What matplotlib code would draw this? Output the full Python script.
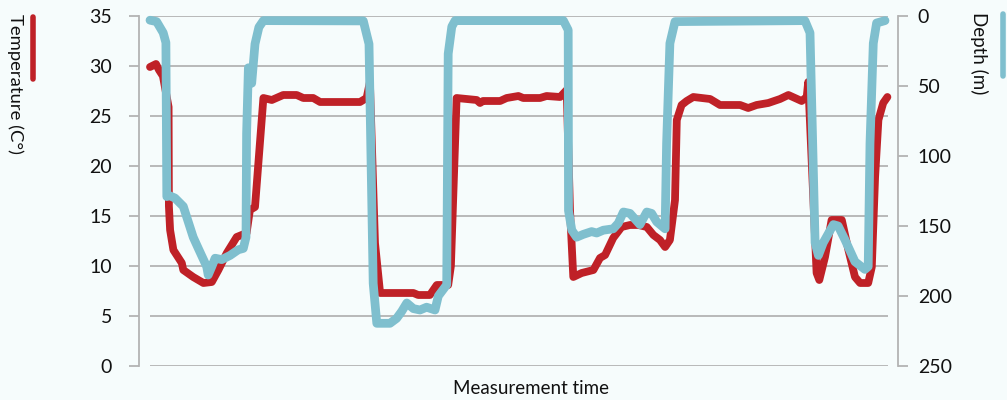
import matplotlib.pyplot as plt

# sample index (arbitrary time units) and readings taken off the chart
temp_t = [0, 2, 3, 4.3, 6.2, 6.3, 6.7, 7.8, 10.6, 11.1, 14.4, 17.8, 20.6, 22.8, 25.6,
          28.9, 32.2, 33.3, 35, 37.8, 40.6, 44.4, 48.9, 51.1, 54.4, 56.7, 70, 72.2,
          73.3, 75, 76.7, 87.8, 89.4, 93.3, 95.6, 99.4, 100.3, 102.2, 108.9, 110, 111,
          116.7, 118.9, 122.8, 124.4, 130, 132.2, 136.7, 138.9, 140, 141.1, 143.9,
          147.8, 150, 151.7, 154.4, 157.2, 160, 162.8, 165.6, 167.8, 170, 171.7, 173.3,
          175, 175.6, 177.2, 178.9, 181.1, 186.7, 190, 196.7, 199.4, 202.2, 206.1, 210,
          212.8, 217.2, 218.9, 219.4, 222.2, 223.1, 225, 227.2, 230.6, 232.8, 235,
          236.7, 239.4, 240.6, 241.7, 242.8, 244.4, 245.8]
temperature = [29.9, 30.2, 29.6, 29.0, 25.9, 16.0, 13.6, 11.6, 10.3, 9.6, 8.9, 8.3, 8.4,
               9.6, 11.3, 12.9, 13.3, 15.6, 15.9, 26.8, 26.6, 27.1, 27.1, 26.8, 26.8,
               26.4, 26.4, 26.8, 28.4, 12.3, 7.3, 7.3, 7.1, 7.1, 8.1, 8.1, 10.0, 26.8,
               26.6, 26.3, 26.5, 26.5, 26.8, 27.0, 26.8, 26.8, 27.0, 26.9, 27.6, 15.6,
               8.9, 9.3, 9.6, 10.8, 11.1, 12.8, 13.9, 14.1, 14.1, 13.9, 13.1, 12.6, 11.9,
               12.6, 16.6, 24.6, 26.1, 26.5, 26.9, 26.7, 26.1, 26.1, 25.8, 26.1, 26.3,
               26.7, 27.1, 26.5, 26.9, 28.4, 9.3, 8.6, 10.9, 14.6, 14.6, 11.6, 8.9, 8.3,
               8.3, 9.9, 18.9, 24.6, 26.3, 26.9]

depth_t = [0, 2.2, 4.4, 5.3, 5.6, 6.1, 8.3, 11.1, 11.7, 14.4, 16.1, 18.9, 19.4, 20.6,
           21.7, 23.9, 26.7, 29.4, 31.1, 32, 32.2, 32.8, 33.9, 35, 36.3, 37.8, 71.1,
           73, 74.4, 75.6, 80, 82.2, 83.9, 85.6, 87.8, 90, 92.2, 95, 96.1, 98.9, 99.4,
           100.6, 101.7, 137.8, 139.4, 139.5, 140.6, 142.2, 144.4, 147.2, 148.9, 151.1,
           154.4, 156.1, 157.8, 160, 163.3, 165.6, 167.2, 168.9, 171.7, 172.2, 173.3,
           175, 218.3, 220, 221.7, 222.8, 224.4, 227.8, 229.4, 231.7, 235, 238.3, 239.4,
           240, 241.1, 242.2, 245]
depth = [3, 4, 12, 19, 129, 128, 130, 136, 140, 158, 166, 179, 185, 179, 173, 174, 171,
         167, 166, 158, 84, 37, 48, 20, 8, 3.3, 3.5, 20, 191, 219.5, 219.5, 216, 211,
         205, 209, 210, 208, 210, 200, 192, 27, 7.6, 3.3, 3.3, 10, 139, 153, 158, 156,
         154, 155, 153, 152, 148, 140, 141, 149, 140, 141, 147, 152, 91, 19.5, 4, 3.3,
         12, 162, 171, 162, 149, 150, 160, 175.5, 181, 179, 91, 19.5, 5, 3.3]

temp_ticks = [0, 5, 10, 15, 20, 25, 30, 35]
depth_ticks = [0, 50, 100, 150, 200, 250]

RED = "#bf2127"
BLUE = "#7fbfce"
GRID = "#b3b3b3"
BG = "#f6fcfc"

plt.rcParams["font.family"] = ["Lato", "DejaVu Sans"]

fig = plt.figure(figsize=(10.07, 4.0), dpi=100, facecolor=BG)
ax = fig.add_axes([150 / 1007, 1 - 366 / 400, 738 / 1007, 350 / 400])
ax.set_facecolor(BG)

ax.plot(temp_t, temperature, color=RED, lw=5.6, solid_capstyle="round",
        solid_joinstyle="round", clip_on=False)
ax.set_xlim(0, 246)
ax.set_ylim(0, 35)
ax.set_yticks(temp_ticks)
ax.set_xticks([])
ax.grid(axis="y", color=GRID, lw=1.3)
ax.set_axisbelow(True)

for s in ["top", "right", "bottom"]:
    ax.spines[s].set_visible(False)
ax.spines["left"].set_position(("outward", 8))
ax.spines["left"].set_color(GRID)
ax.spines["left"].set_linewidth(1.3)
ax.tick_params(axis="y", length=7.5, width=1.3, color=GRID, pad=12,
               labelsize=14, labelcolor="#111111")

ax2 = ax.twinx()
ax2.plot(depth_t, depth, color=BLUE, lw=6.3, solid_capstyle="round",
         solid_joinstyle="round", clip_on=False)
ax2.set_ylim(250, 0)
ax2.set_yticks(depth_ticks)
for s in ["top", "left", "bottom"]:
    ax2.spines[s].set_visible(False)
ax2.spines["right"].set_position(("outward", 7))
ax2.spines["right"].set_color(GRID)
ax2.spines["right"].set_linewidth(1.3)
ax2.tick_params(axis="y", length=7.5, width=1.3, color=GRID, pad=7,
                labelsize=14, labelcolor="#111111")

# axis titles with little legend strokes next to them
fig.text(15 / 1007, 1 - 14 / 400, "Temperature (C°)", rotation=-90, ha="center",
         va="top", fontsize=13.3, color="#111111")
fig.add_artist(plt.Line2D([33 / 1007, 33 / 1007], [1 - 17 / 400, 1 - 79 / 400],
                          color=RED, lw=4, solid_capstyle="round"))
fig.text(979 / 1007, 1 - 12 / 400, "Depth (m)", rotation=-90, ha="center",
         va="top", fontsize=13.5, color="#111111")
fig.add_artist(plt.Line2D([1003 / 1007, 1003 / 1007], [1 - 14 / 400, 1 - 76 / 400],
                          color=BLUE, lw=4, solid_capstyle="round"))

fig.text(531 / 1007, 1 - 389 / 400, "Measurement time", ha="center", va="center",
         fontsize=13.5, color="#111111")

fig.savefig("out.png", dpi=100, facecolor=BG)
